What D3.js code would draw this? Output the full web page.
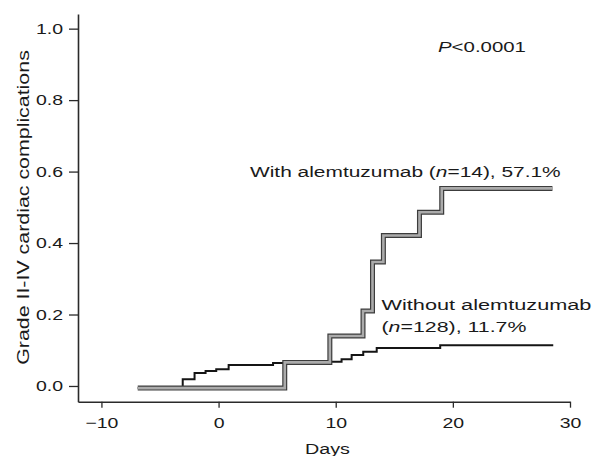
<!DOCTYPE html>
<html>
<head>
<meta charset="utf-8">
<script src="https://cdn.jsdelivr.net/npm/d3@7"></script>
<style>
  body { margin: 0; background: white; }
  text { font-family: "Liberation Sans", Arial, sans-serif; fill: #1a1a1a; }
</style>
</head>
<body>
<div id="container"></div>
<script>
let w = 597;
let h = 456;

// cumulative incidence (step curves)
let withDays = [-6.9, 5.65, 9.5, 12.33, 13.14, 14.07, 17.15, 19.05, 28.5];
let withRisk = [-0.006, 0.066, 0.140, 0.210, 0.347, 0.421, 0.486, 0.553, 0.553];

let withoutDays = [-6.9, -3.06, -2.05, -1.11, -0.2, 0.86, 4.65, 9.5, 10.5, 11.36, 12.35, 13.5, 18.92, 28.57];
let withoutRisk = [-0.006, 0.019, 0.036, 0.042, 0.047, 0.059, 0.064, 0.068, 0.075, 0.087, 0.096, 0.106, 0.114, 0.114];

let xTicks = [-10, 0, 10, 20, 30];
let yTicks = [0, 0.2, 0.4, 0.6, 0.8, 1.0];

let viz = d3.select("#container")
  .append("svg")
  .attr("width", w)
  .attr("height", h)
  .style("background-color", "white");

let xScale = d3.scaleLinear().domain([-12, 30]).range([78, 570]);
let yScale = d3.scaleLinear().domain([-0.044, 1.041]).range([401.7, 14]);

// axes
let xAxis = d3.axisBottom(xScale)
  .tickValues(xTicks)
  .tickSize(6)
  .tickSizeOuter(0)
  .tickPadding(10)
  .tickFormat(d3.format("d"));

let yAxis = d3.axisLeft(yScale)
  .tickValues(yTicks)
  .tickSize(9)
  .tickSizeOuter(0)
  .tickPadding(6)
  .tickFormat(d3.format(".1f"));

let gx = viz.append("g")
  .attr("transform", "translate(0," + yScale.range()[0] + ")")
  .call(xAxis);

let gy = viz.append("g")
  .attr("transform", "translate(" + xScale.range()[0] + ",0)")
  .call(yAxis);

[gx, gy].forEach(function(g) {
  g.select(".domain").attr("stroke", "#2a2a2a").attr("stroke-width", 1.6);
  g.selectAll(".tick line").attr("stroke", "#2a2a2a").attr("stroke-width", 1.3);
  g.selectAll(".tick text")
    .style("font-size", "15px")
    .attr("fill", "#1a1a1a")
    .style("font-family", "'Liberation Sans', Arial, sans-serif");
});

// the scanned lettering is wider than Arial, stretch it a bit
let kx = 1.3;
gx.selectAll(".tick text").attr("transform", "scale(" + kx + ",1)");
gy.selectAll(".tick text")
  .attr("x", -15 / kx)
  .attr("transform", "scale(" + kx + ",1)");

// curves
function toPoints(days, risk) {
  return days.map(function(d, i) {
    return [d, risk[i]];
  });
}

let stepLine = d3.line()
  .x(function(d) { return xScale(d[0]); })
  .y(function(d) { return yScale(d[1]); })
  .curve(d3.curveStepAfter);

viz.append("path")
  .datum(toPoints(withoutDays, withoutRisk))
  .attr("d", stepLine)
  .attr("fill", "none")
  .attr("stroke", "#151515")
  .attr("stroke-width", 2);

let withPts = toPoints(withDays, withRisk);

viz.append("path")
  .datum(withPts)
  .attr("d", stepLine)
  .attr("fill", "none")
  .attr("stroke", "#3c3c3c")
  .attr("stroke-width", 5)
  .attr("stroke-linejoin", "miter");

viz.append("path")
  .datum(withPts)
  .attr("d", stepLine)
  .attr("fill", "none")
  .attr("stroke", "#ababab")
  .attr("stroke-width", 2.6)
  .attr("stroke-linejoin", "miter");

// labels: each piece is a list of [text, italic]
function addLabel(x, y, parts, width, size, anchor, rotate) {
  let g = viz.append("g");
  let t = g.append("text")
    .attr("x", 0)
    .attr("y", 0)
    .style("font-size", size + "px")
    .attr("text-anchor", anchor || "start");
  parts.forEach(function(p) {
    t.append("tspan")
      .text(p[0])
      .style("font-style", p[1] ? "italic" : "normal");
  });
  let k = width / t.node().getComputedTextLength();
  let tr = "translate(" + x + "," + y + ")";
  if (rotate) tr += " rotate(" + rotate + ")";
  g.attr("transform", tr + " scale(" + k + ",1)");
}

addLabel(438, 51.5, [["P", true], ["<0.0001", false]], 88, 15.5);
addLabel(250, 176.5, [["With alemtuzumab (", false], ["n", true], ["=14), 57.1%", false]], 311, 15.5);
addLabel(381.5, 310, [["Without alemtuzumab", false]], 210, 15.5);
addLabel(381.5, 331.5, [["(", false], ["n", true], ["=128), 11.7%", false]], 145, 15.5);
addLabel(327.5, 454, [["Days", false]], 45, 15.5, "middle");
addLabel(28.5, 207.5, [["Grade II-IV cardiac complications", false]], 315, 17, "middle", -90);
</script>
</body>
</html>
